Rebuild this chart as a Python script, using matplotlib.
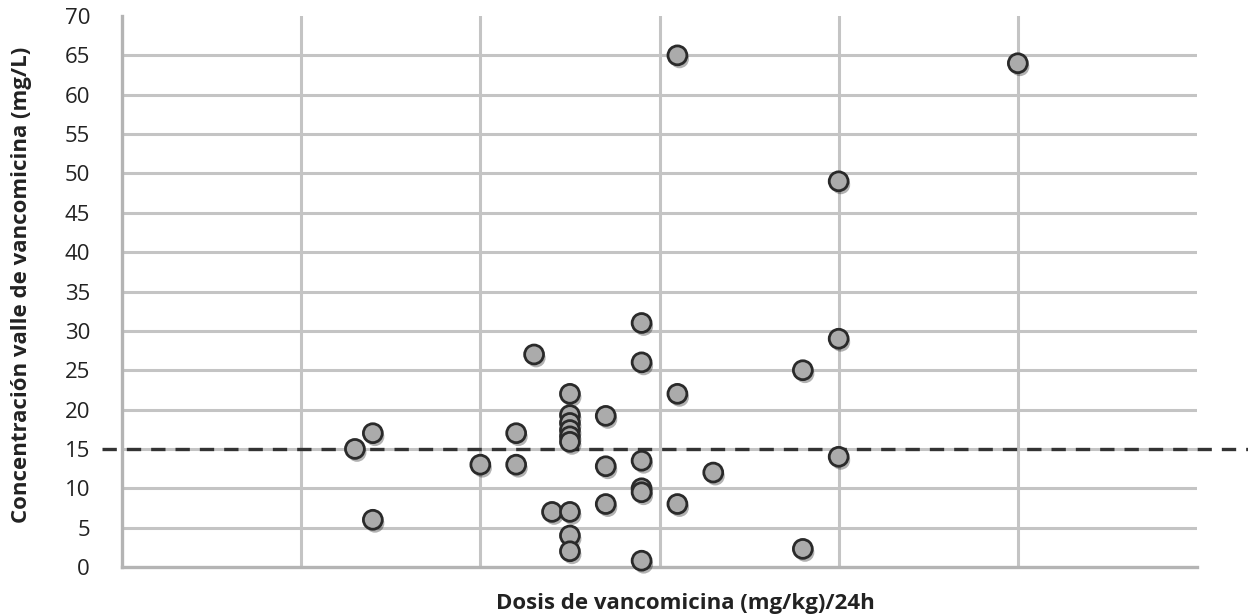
import matplotlib
matplotlib.use("Agg")
import matplotlib.pyplot as plt
import matplotlib.patheffects as pe
from matplotlib.lines import Line2D

dose = [13, 14, 14, 20, 22, 22, 23, 24, 25, 25, 25, 25, 25, 25, 25, 25, 25,
        27, 27, 27, 29, 29, 29, 29, 29, 29, 31, 31, 31, 33, 38, 38, 40, 40, 40, 50]
conc = [15, 17, 6, 13, 17, 13, 27, 7, 22, 19.3, 18.3, 17.4, 16.6, 15.9, 7, 4.0, 2,
        19.2, 12.8, 8, 31, 26, 13.5, 10, 9.5, 0.8, 65, 22, 8, 12, 25, 2.3, 29, 14, 49, 64]
threshold = 15
yticks = list(range(0, 75, 5))
xgrid = [10, 20, 30, 40, 50]

plt.rcParams['font.family'] = ['Open Sans', 'DejaVu Sans']

fig = plt.figure(figsize=(12.48, 6.15), dpi=100)
ax = fig.add_axes([122/1248, 1-567/615, (1197-122)/1248, (567-16)/615])
ax.set_xlim(0, 60)
ax.set_ylim(0, 70)

grid_c = '#c4c4c4'
for y in yticks[1:-1]:
    ax.axhline(y, color=grid_c, lw=2.2, zorder=1)
for x in xgrid:
    ax.axvline(x, color=grid_c, lw=2.2, zorder=1)

for s in ['top', 'right']:
    ax.spines[s].set_visible(False)
for s in ['left', 'bottom']:
    ax.spines[s].set_color('#b4b4b4')
    ax.spines[s].set_linewidth(2.4)
ax.spines['bottom'].set_zorder(1)

ax.set_xticks([])
ax.set_yticks(yticks)
ax.set_yticklabels([str(v) for v in yticks], fontsize=16, color='#222222')
ax.tick_params(axis='y', length=0, pad=23)

# threshold dashed line extending beyond axes
ln = Line2D([-20/179.2*10, 60 + 51/179.2*10], [threshold, threshold],
            color='#333333', lw=2.4, dashes=(4.3, 3.0), clip_on=False, zorder=2)
ax.add_line(ln)

sc = ax.scatter(dose, conc, s=185, facecolor='#ababab', edgecolor='#2a2a2a',
                linewidths=2.0, zorder=3, clip_on=False)
sc.set_path_effects([pe.SimplePatchShadow(offset=(1.5, -2.5), shadow_rgbFace='black', alpha=0.3),
                     pe.Normal()])

ax.set_xlabel('Dosis de vancomicina (mg/kg)/24h', fontsize=16, fontweight='bold',
              color='#222222')
ax.xaxis.set_label_coords((685-122)/1075, -(603-567)/551)
ax.xaxis.label.set_va('center')
ax.set_ylabel('Concentración valle de vancomicina (mg/L)', fontsize=16, fontweight='bold',
              color='#222222')
ax.yaxis.set_label_coords(-90/1075, (567-285)/551)

fig.savefig('out.png', dpi=100)
